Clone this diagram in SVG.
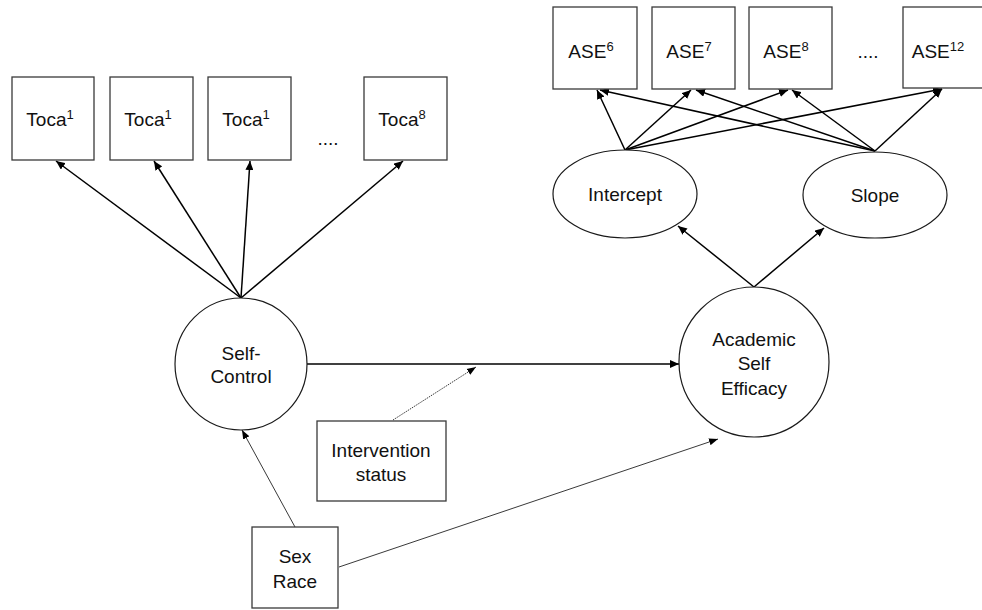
<svg xmlns="http://www.w3.org/2000/svg" width="982" height="610" viewBox="0 0 982 610">
<style>
.box{fill:#fff;stroke:#3a3a3a;stroke-width:1.3}
.lat{fill:#fff;stroke:#1a1a1a;stroke-width:1.2}
.t{font-family:"Liberation Sans",Arial,sans-serif;font-size:19px;fill:#111;text-anchor:middle}
.sup{font-size:13px}
.c{stroke:#000;stroke-width:1.5;fill:none;marker-end:url(#ah)}
.thin{stroke:#222;stroke-width:0.9;fill:none;marker-end:url(#ahs)}
.dot{stroke:#222;stroke-width:0.9;stroke-dasharray:1.5 1;fill:none;marker-end:url(#ahs)}
</style>
<defs>
<marker id="ah" markerWidth="10" markerHeight="8" refX="9" refY="4" orient="auto" markerUnits="userSpaceOnUse">
<path d="M0,0 L9,4 L0,8 z" fill="#000"/>
</marker>
<marker id="ahs" markerWidth="10" markerHeight="8" refX="9" refY="4" orient="auto" markerUnits="userSpaceOnUse">
<path d="M0,0.5 L9,4 L0,7.5 z" fill="#000"/>
</marker>
</defs>
<rect width="982" height="610" fill="#fff"/>
<g id="connectors">
<line class="c" x1="241" y1="298" x2="56" y2="161"/>
<line class="c" x1="241" y1="298" x2="154" y2="161"/>
<line class="c" x1="241" y1="298" x2="250" y2="161"/>
<line class="c" x1="241" y1="298" x2="403" y2="161"/>
<line class="c" x1="625" y1="150" x2="597" y2="90"/>
<line class="c" x1="625" y1="150" x2="691" y2="90"/>
<line class="c" x1="625" y1="150" x2="788" y2="90"/>
<line class="c" x1="625" y1="150" x2="942" y2="89"/>
<line class="c" x1="875" y1="151" x2="600" y2="90"/>
<line class="c" x1="875" y1="151" x2="696" y2="90"/>
<line class="c" x1="875" y1="151" x2="792" y2="90"/>
<line class="c" x1="875" y1="151" x2="942" y2="89"/>
<line class="c" x1="754" y1="287" x2="678" y2="226"/>
<line class="c" x1="754" y1="287" x2="824" y2="228"/>
<line class="c" x1="307" y1="364" x2="679" y2="364"/>
<line class="dot" x1="393" y1="420" x2="476" y2="367"/>
<line class="thin" x1="295" y1="527" x2="242" y2="430"/>
<line class="thin" x1="339" y1="567" x2="718" y2="439"/>
</g>
<g id="toca1"><rect class="box" x="12" y="77" width="82" height="83"/><text class="t" x="50" y="126">Toca<tspan class="sup" dy="-7">1</tspan></text></g>
<g id="toca2"><rect class="box" x="110" y="77" width="83" height="83"/><text class="t" x="148" y="126">Toca<tspan class="sup" dy="-7">1</tspan></text></g>
<g id="toca3"><rect class="box" x="208" y="77" width="83" height="83"/><text class="t" x="246" y="126">Toca<tspan class="sup" dy="-7">1</tspan></text></g>
<g id="toca-dots"><text class="t" x="328" y="145">....</text></g>
<g id="toca8"><rect class="box" x="364" y="77" width="83" height="83"/><text class="t" x="402" y="126">Toca<tspan class="sup" dy="-7">8</tspan></text></g>
<g id="ase6"><rect class="box" x="553" y="7" width="84" height="82"/><text class="t" x="591" y="58">ASE<tspan class="sup" dy="-7">6</tspan></text></g>
<g id="ase7"><rect class="box" x="652" y="7" width="83" height="82"/><text class="t" x="689" y="58">ASE<tspan class="sup" dy="-7">7</tspan></text></g>
<g id="ase8"><rect class="box" x="749" y="7" width="83" height="82"/><text class="t" x="786" y="58">ASE<tspan class="sup" dy="-7">8</tspan></text></g>
<g id="ase-dots"><text class="t" x="868" y="58">....</text></g>
<g id="ase12"><rect class="box" x="903" y="7" width="80" height="81"/><text class="t" x="938" y="58">ASE<tspan class="sup" dy="-7">12</tspan></text></g>
<g id="intercept"><ellipse class="lat" cx="625" cy="194" rx="72" ry="44"/><text class="t" x="625" y="201">Intercept</text></g>
<g id="slope"><ellipse class="lat" cx="875" cy="195" rx="72" ry="43"/><text class="t" x="875" y="202">Slope</text></g>
<g id="selfcontrol"><circle class="lat" cx="241" cy="364" r="66"/><text class="t" x="241" y="360">Self-</text><text class="t" x="241" y="383">Control</text></g>
<g id="ase"><circle class="lat" cx="754" cy="362" r="75"/><text class="t" x="754" y="346">Academic</text><text class="t" x="754" y="370">Self</text><text class="t" x="754" y="395">Efficacy</text></g>
<g id="intervention"><rect class="box" x="317" y="421" width="129" height="80"/><text class="t" x="381" y="457">Intervention</text><text class="t" x="381" y="481">status</text></g>
<g id="sexrace"><rect class="box" x="252" y="527" width="86" height="81"/><text class="t" x="295" y="563">Sex</text><text class="t" x="295" y="588">Race</text></g>
</svg>
